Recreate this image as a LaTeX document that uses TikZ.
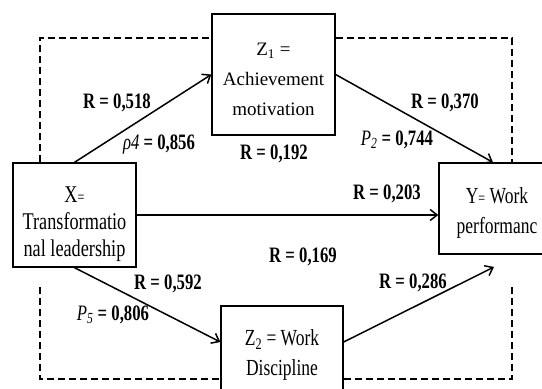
\documentclass[tikz,border=0pt]{standalone}
\usepackage{fontspec}
\setmainfont{Liberation Serif}
\newfontfamily\narrowserif[FakeStretch=0.76]{Liberation Serif}
\usetikzlibrary{positioning, arrows.meta, calc}

\newcommand{\ivar}[1]{{\mdseries\itshape #1}}
\newcommand{\smalleq}{{\fontsize{16}{16}\selectfont =}}

\begin{document}
\begin{tikzpicture}[
                x=1pt, y=-1pt,
                >={Straight Barb[length=7pt,width=11pt]},
                box/.style={draw, line width=1.3pt, minimum width=123pt, inner sep=0pt},
                boxtext/.style={align=center, inner sep=0pt, font=\narrowserif\fontsize{23}{30}\selectfont},
                link/.style={->, line width=1.5pt},
                dashline/.style={dash pattern=on 7pt off 4pt, line width=1.1pt},
                lbl/.style={font=\narrowserif\bfseries\fontsize{22}{22}\selectfont, inner sep=0pt},
            ]
                \path[use as bounding box, clip] (0,0) rectangle (542,389);
                \fill[white] (0,0) rectangle (542,389);

                % Draw the variable boxes
                \node[box, minimum height=121pt] (Z1) at (273.5,74.5) {};
                \node[box, minimum height=104pt] (X) at (74.5,215) {};
                \node[box, minimum width=116pt, minimum height=91pt] (Y) at (497,208.5) {};
                \node[box, minimum width=122pt, minimum height=98pt] (Z2) at (282,355) {};

                % Their texts
                \node[boxtext, font=\fontsize{19}{30}\selectfont] (Z1-t) at ([yshift=-5pt]Z1.center) {Z\textsubscript{1} =\\Achievement\\motivation};
                \node[boxtext, font=\narrowserif\fontsize{24}{27}\selectfont] (X-t) at ([yshift=-9pt]X.center) {X\smalleq\\Transformatio\\nal leadership};
                \node[boxtext] (Y-t) at ([yshift=-4pt]Y.center) {Y\smalleq{} Work\\performanc};
                \node[boxtext] (Z2-t) at (Z2.center) {Z\textsubscript{2} = Work\\Discipline};

                % Corners of the dashed frame and its open ends
                \coordinate (tl) at (40,38);
                \coordinate (br) at (512,379);
                \coordinate (lgap) at (40,287);
                \coordinate (rgap) at (512,284);
                \coordinate (Yin) at (494,267);

                % Draw the paths between the variables
                \draw[link] (X.north) -- (Z1.west);
                \draw[link] (Z1.east) -- ([xshift=-4pt]Y.north);
                \draw[link] (X.east) -- (X.east -| Y.west);
                \draw[link] (X.south) -- ([yshift=13pt]Z2.west);
                \draw[link] ([yshift=13pt]Z2.east) -- (Yin);

                % Draw the dashed frame
                \draw[dashline] (X.north -| tl) -- (tl) -- (tl -| Z1.west);
                \draw[dashline] (tl -| Z1.east) -- (tl -| br) -- (Y.north -| br);
                \draw[dashline] (lgap) -- (tl |- br) -- (br -| Z2.west);
                \draw[dashline] (br -| Z2.east) -- (br) -- (rgap);

                % Coefficients
                \node[lbl] (r-xz1) at (117,103) {R = 0,518};
                \node[lbl] (p-xz1) at (159,145) {\ivar{ρ4} = 0,856};
                \node[lbl] (r-z1z2) at (274,154) {R = 0,192};
                \node[lbl] (r-z1y) at (445,103) {R = 0,370};
                \node[lbl] (p-z1y) at (397,140) {\ivar{P\textsubscript{2}} = 0,744};
                \node[lbl] (r-xy) at (387,194) {R = 0,203};
                \node[lbl] (r-xz2y) at (303,257) {R = 0,169};
                \node[lbl] (r-xz2) at (168,284) {R = 0,592};
                \node[lbl] (p-xz2) at (113,315) {\ivar{P\textsubscript{5}} = 0,806};
                \node[lbl] (r-z2y) at (413,283) {R = 0,286};
            \end{tikzpicture}
\end{document}
